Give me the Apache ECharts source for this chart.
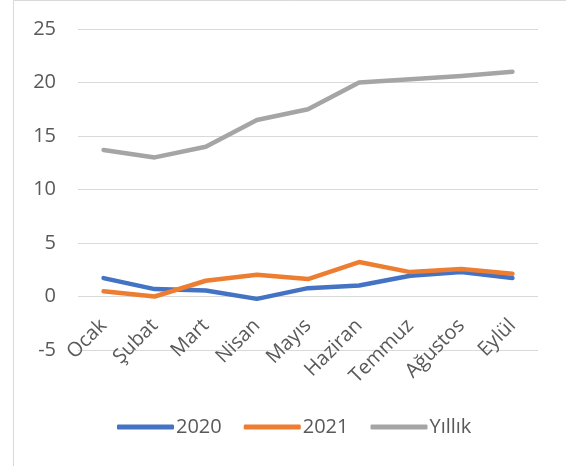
<!DOCTYPE html>
<html>
<head>
<meta charset="utf-8">
<script src="https://cdn.jsdelivr.net/npm/echarts@6/dist/echarts.min.js"></script>
<style>
  html, body { margin: 0; padding: 0; background: #fff; }
  #chart { width: 566px; height: 466px; }
</style>
</head>
<body>
<div id="chart"></div>
<script>
// aylar
const months = ['Ocak', 'Şubat', 'Mart', 'Nisan', 'Mayıs', 'Haziran', 'Temmuz', 'Ağustos', 'Eylül'];
// seriler
const values2020 = [1.72, 0.69, 0.56, -0.22, 0.78, 1.03, 1.94, 2.28, 1.72];
const values2021 = [0.5, 0.0, 1.47, 2.03, 1.63, 3.22, 2.28, 2.56, 2.12];
const valuesYillik = [13.7, 13.0, 14.0, 16.5, 17.5, 20.0, 20.3, 20.6, 21.0];

const textColor = '#595959';
const font = 'Open Sans';

const chart = echarts.init(document.getElementById('chart'));

const lineSeries = (name, data, color) => ({
  name: name,
  type: 'line',
  data: data,
  showSymbol: false,
  symbol: 'none',
  lineStyle: { color: color, width: 4.5, cap: 'round', join: 'round' },
  itemStyle: { color: color },
});

// grid: 29 top, 116 bottom -> 321px for 30 units; 0 sits 5 units above the bottom
const gridTop = 29, gridBottom = 116;
const zeroOffset = (466 - gridTop - gridBottom) * 5 / 30;

const option = {
  animation: false,
  backgroundColor: '#fff',
  graphic: [{
    type: 'rect',
    shape: { x: 13.5, y: 0.5, width: 600, height: 600 },
    style: { fill: 'none', stroke: '#d9d9d9', lineWidth: 1 },
    silent: true,
  }],
  grid: { left: 78, right: 28, top: gridTop, bottom: gridBottom },
  legend: {
    data: ['2020', '2021', 'Yıllık'],
    bottom: 24,
    left: 112,
    icon: 'roundRect',
    itemWidth: 57,
    itemHeight: 5,
    itemGap: 22,
    textStyle: { color: textColor, fontSize: 20, fontFamily: font, padding: [0, 0, 0, -3] },
  },
  xAxis: {
    type: 'category',
    data: months,
    boundaryGap: true,
    offset: -zeroOffset,
    axisLine: { show: false, onZero: false },
    axisTick: { show: false },
    axisLabel: {
      rotate: 45,
      margin: 26,
      color: textColor,
      fontSize: 20,
      fontFamily: font,
      interval: 0,
    },
  },
  yAxis: {
    type: 'value',
    min: -5,
    max: 25,
    interval: 5,
    axisLine: { show: false },
    axisTick: { show: false },
    splitLine: { lineStyle: { color: '#d9d9d9', width: 1 } },
    axisLabel: { color: textColor, fontSize: 20, fontFamily: font, margin: 22 },
  },
  series: [
    lineSeries('2020', values2020, '#4472c4'),
    lineSeries('2021', values2021, '#ed7d31'),
    lineSeries('Yıllık', valuesYillik, '#a5a5a5'),
  ],
};

chart.setOption(option);
</script>
</body>
</html>
